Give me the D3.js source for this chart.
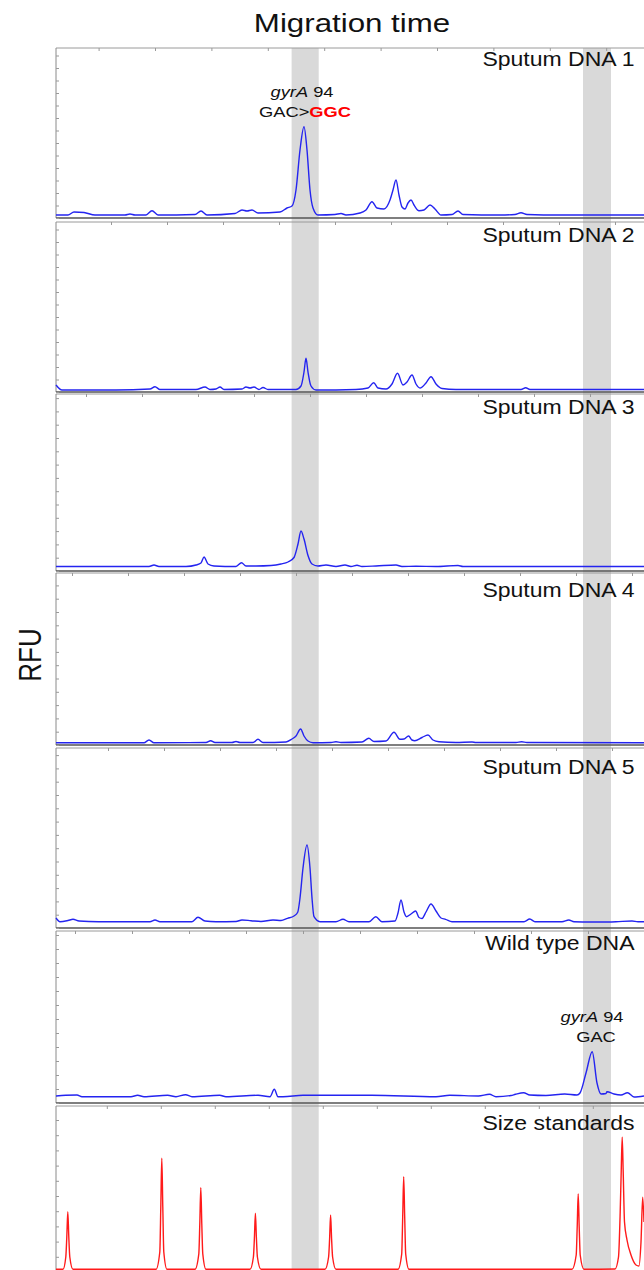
<!DOCTYPE html>
<html>
<head>
<meta charset="utf-8">
<script src="https://cdn.jsdelivr.net/npm/d3@7"></script>
<style>
body { margin: 0; background: #fff; }
text { font-family: "Liberation Sans", Arial, sans-serif; fill: #111; }
</style>
</head>
<body>
<svg id="chart" width="644" height="1270"></svg>
<script>
// ---- data (time in scans, signal in RFU) ----
var panelNames = ["Sputum DNA 1", "Sputum DNA 2", "Sputum DNA 3", "Sputum DNA 4",
                  "Sputum DNA 5", "Wild type DNA", "Size standards"];
var rfuMax = [1700, 1700, 1770, 1720, 1800, 1720, 1660];
var rfuTickStep = [125, 125, 133, 133, 133, 140, 152];
var timeTickStart = [42.6, 55, 30, 16, 52, 19, 50.8];
var timeTickStep = [56.4, 56, 56, 56, 56, 57, 54];
var markerWindows = [[235.6, 262.7], [527, 555]];

var trace1 = [[0,30],[12,30],[18,60],[28,55],[39,30],[69,30],[74,40],[79,30],[90,30],[96,73],[102,30],
  [139,35],[145,70],[151,30],[179,45],[186,80],[191,70],[196,80],[202,50],[224,60],[231,100],[236,120],
  [240,280],[244,680],[248,913],[251,680],[254,280],[257,100],[262,30],[279,35],[285,45],[290,30],
  [304,50],[310,80],[316,163],[321,100],[328,90],[334,180],[337,280],[340,380],[343,230],[346,110],
  [349,90],[352,150],[355,180],[358,130],[363,73],[368,80],[374,130],[379,90],[385,30],[396,35],
  [402,70],[407,35],[444,30],[459,35],[465,53],[471,35],[504,30],[600,30]];
var trace2 = [[0,70],[6,20],[60,20],[94,30],[99,53],[104,25],[140,25],[149,50],[154,25],[160,30],
  [164,50],[168,25],[186,30],[190,50],[194,40],[198,50],[203,25],[207,45],[212,25],[240,25],[245,60],
  [248,200],[250,337],[252,200],[255,60],[260,20],[300,25],[312,40],[317.7,93],[322,40],[330,30],
  [336,80],[341.5,187],[347,70],[351,100],[356,170],[360,80],[364,40],[370,90],[375,153],[380,80],
  [386,35],[400,25],[430,25],[465,25],[469.7,43],[474,25],[530,25],[600,25]];
var trace3 = [[0,45],[40,45],[93,45],[98,60],[103,45],[130,45],[140,60],[145,80],[148,140],[152,70],
  [158,50],[180,45],[185.5,83],[190,50],[200,50],[215,55],[225,70],[232,90],[238,135],[242,270],
  [245,400],[248,320],[252,155],[256,70],[262,50],[270,60],[280,45],[289,60],[295,45],[301,58],
  [306,45],[320,50],[340,60],[346,45],[360,48],[380,45],[402,55],[407,45],[450,45],[600,45]];
var trace4 = [[0,23],[88,23],[93,50],[98,23],[150,25],[154.7,43],[159,25],[176,25],[180,35],[184,25],
  [197,25],[202,57],[207,25],[230,30],[236,60],[240,90],[244.6,160],[248,90],[252,40],[257,23],
  [275,25],[280,33],[285,25],[306,30],[312.8,67],[318,35],[330,40],[338,127],[344,57],[348,60],
  [352.6,90],[356,50],[358.8,43],[366,75],[372,100],[377,50],[383,33],[400,25],[416,30],[420,25],
  [460,25],[465.6,33],[471,25],[600,23]];
var trace5 = [[0,100],[4,63],[12,75],[17,87],[23,70],[42.6,63],[94,63],[99,80],[104,63],[136,63],
  [142,107],[149,70],[160,63],[180,65],[186,80],[195,73],[205,65],[217,80],[225,75],[231.5,97],
  [238,120],[241.7,157],[244,300],[247,600],[251,830],[254,600],[256,300],[258,113],[264,63],
  [280,63],[287,87],[293,63],[313,63],[319.8,113],[326,63],[339,70],[342,150],[345,280],[348,160],
  [350.6,113],[355,140],[359.6,170],[363,105],[366,95],[370,160],[375,240],[380,170],[385,100],
  [389.6,87],[396,63],[468,63],[473.8,90],[479,63],[506,63],[512.8,80],[518,63],[535,60],
  [545.6,60],[560,63],[576,70],[582,63],[600,63]];
var trace6 = [[0,70],[9.7,77],[21,80],[26,63],[75,63],[81.6,77],[88,63],[111.6,77],[120,63],
  [129.6,83],[136,63],[163.7,77],[170,63],[202,77],[214,63],[218.3,137],[222,63],[227,63],
  [247,77],[274.6,77],[315.7,77],[380,63],[393.7,77],[422.4,70],[433.5,87],[440,63],[455,75],
  [459.4,87],[467.6,103],[473.8,80],[490,75],[508.7,90],[521,80],[524,100],[530,300],[536.2,513],
  [541,200],[545,90],[550,95],[551,113],[558,90],[565,80],[571.5,103],[578,60],[588,70]];
var trace7 = [[0,27],[7,27],[9.8,150],[10.8,350],[11.8,603],[12.8,350],[13.8,150],[17,27],
  [100,27],[103.8,200],[104.8,650],[105.8,1137],[106.8,650],[107.8,200],[111,27],
  [139,27],[142.8,180],[143.8,480],[144.8,843],[145.8,480],[146.8,180],[150,27],
  [194,27],[197.4,150],[198.4,340],[199.4,587],[200.4,340],[201.4,150],[205,27],
  [269,27],[272.6,150],[273.6,330],[274.6,570],[275.6,330],[276.6,150],[280,27],
  [342,27],[345.7,180],[346.7,550],[347.7,953],[348.7,550],[349.7,180],[353,27],
  [516,27],[520.2,170],[521.2,450],[522.2,780],[523.2,450],[524.2,170],[528,27],
  [559,30],[562.5,150],[564.2,600],[565.2,1000],[566.2,1347],[567.2,1000],[568.5,500],
  [571,320],[575,170],[580,70],[583,60],[585,300],[586.7,747],[588,500]];
var traces = [trace1, trace2, trace3, trace4, trace5, trace6, trace7];

// ---- layout ----
var W = 644, H = 1270, left = 56;
var panelTop = [48, 222, 394, 573, 748, 931, 1106];
var panelBottom = [218, 392, 571, 745, 928, 1103, 1272];
var labelDy = [17.7, 19.7, 20, 23.7, 26, 19, 24];
var stretch = 1.18; // the figure's lettering is a bit wide

var svg = d3.select("#chart");
var x = d3.scaleLinear().domain([0, 588]).range([left, W]);

// grey marker windows across all panels
svg.selectAll("rect.win")
  .data(markerWindows)
  .enter()
  .append("rect")
  .attr("class", "win")
  .attr("x", function (d) { return x(d[0]); })
  .attr("width", function (d) { return x(d[1]) - x(d[0]); })
  .attr("y", panelTop[0])
  .attr("height", H - panelTop[0])
  .attr("fill", "#d9d9d9");

panelNames.forEach(function (name, i) {
  var top = panelTop[i], bottom = panelBottom[i];
  var y = d3.scaleLinear().domain([0, rfuMax[i]]).range([bottom, top]);
  var g = svg.append("g");

  // frame
  g.append("line").attr("x1", left).attr("x2", W + 10).attr("y1", top).attr("y2", top)
    .attr("stroke", "#9a9a9a").attr("stroke-width", 1);
  g.append("line").attr("x1", left).attr("x2", left).attr("y1", top).attr("y2", bottom)
    .attr("stroke", "#8a8a8a").attr("stroke-width", 1);
  g.append("line").attr("x1", left).attr("x2", W + 10).attr("y1", bottom).attr("y2", bottom)
    .attr("stroke", "#555").attr("stroke-width", 1.5);

  // tiny ticks, no labels
  var xa = g.append("g").attr("transform", "translate(0," + top + ")")
    .call(d3.axisBottom(x).tickValues(d3.range(timeTickStart[i], 600, timeTickStep[i]))
      .tickSize(3).tickFormat(""));
  var ya = g.append("g").attr("transform", "translate(" + left + ",0)")
    .call(d3.axisRight(y).tickValues(d3.range(0, rfuMax[i], rfuTickStep[i]))
      .tickSize(3).tickFormat(""));
  [xa, ya].forEach(function (a) {
    a.select(".domain").remove();
    a.selectAll("line").attr("stroke", "#999");
  });

  // trace
  var line = d3.line()
    .x(function (d) { return x(d[0]); })
    .y(function (d) { return y(d[1]); })
    .curve(d3.curveMonotoneX);
  g.append("path")
    .datum(traces[i])
    .attr("d", line)
    .attr("fill", "none")
    .attr("stroke", i == 6 ? "#ff1a1a" : "#2424f0")
    .attr("stroke-width", 1.4);

  // panel label
  g.append("text")
    .attr("transform", "translate(634.5," + (top + labelDy[i]) + ") scale(" + stretch + ",1)")
    .attr("text-anchor", "end")
    .attr("font-size", 19.5)
    .text(name);
});

// title and axis name
svg.append("text")
  .attr("transform", "translate(352,32) scale(" + stretch + ",1)")
  .attr("text-anchor", "middle")
  .attr("font-size", 26.5)
  .text("Migration time");

svg.append("text")
  .attr("transform", "translate(41,655) rotate(-90) scale(1," + stretch + ")")
  .attr("text-anchor", "middle")
  .attr("font-size", 26)
  .text("RFU");

// peak annotations
function gyrLabel(cx, cy) {
  var t = svg.append("text")
    .attr("transform", "translate(" + cx + "," + cy + ") scale(" + stretch + ",1)")
    .attr("text-anchor", "middle")
    .attr("font-size", 15.5);
  t.append("tspan").attr("font-style", "italic").text("gyrA");
  t.append("tspan").text(" 94");
}
gyrLabel(302, 96.7);
var mut = svg.append("text")
  .attr("transform", "translate(305,117.3) scale(" + stretch + ",1)")
  .attr("text-anchor", "middle")
  .attr("font-size", 15.5);
mut.append("tspan").text("GAC>");
mut.append("tspan").attr("font-weight", "bold").style("fill", "#ff0000").text("GGC");

gyrLabel(592, 1021.7);
svg.append("text")
  .attr("transform", "translate(596,1041.7) scale(" + stretch + ",1)")
  .attr("text-anchor", "middle")
  .attr("font-size", 15.5)
  .text("GAC");
</script>
</body>
</html>
